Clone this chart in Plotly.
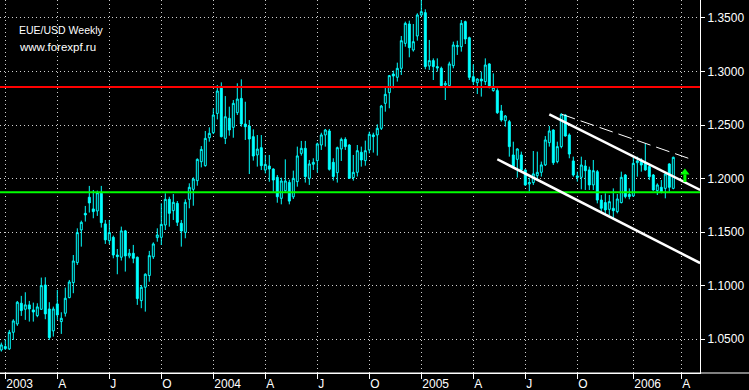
import plotly.graph_objects as go

# ---- data: weekly EUR/USD candles (bar index, 0 = first week of 2003) ----
bar = list(range(-1, 168))
opens = [1.0400,1.0432,1.0410,1.0565,1.0643,1.0836,1.0780,1.0821,1.0774,1.0721,
 1.0780,1.1007,1.0783,1.0578,1.0830,1.0665,1.0743,1.0889,1.1029,1.1216,
 1.1521,1.1676,1.1826,1.1717,1.1698,1.1863,1.1577,1.1421,1.1452,1.1287,
 1.1266,1.1512,1.1278,1.1303,1.1266,1.0861,1.0986,1.1095,1.1270,1.1449,
 1.1452,1.1567,1.1807,1.1701,1.1769,1.1583,1.1498,1.1807,1.1900,1.1981,
 1.2158,1.2121,1.2382,1.2429,1.2609,1.2852,1.2376,1.2563,1.2479,1.2616,
 1.2749,1.2510,1.2491,1.2392,1.2221,1.2289,1.2080,1.2118,1.2090,1.2012,
 1.1816,1.1887,1.1965,1.1830,1.1972,1.2236,1.2283,1.2003,1.2134,1.2168,
 1.2314,1.2408,1.2445,1.2152,1.2056,1.2277,1.2367,1.2314,1.2009,1.2059,
 1.2246,1.2168,1.2268,1.2408,1.2408,1.2470,1.2703,1.2803,1.2977,1.2946,
 1.3030,1.3263,1.3444,1.3201,1.3332,1.3528,1.3550,1.3052,1.3102,1.3046,
 1.3030,1.2874,1.2868,1.3055,1.3232,1.3232,1.3466,1.3316,1.2952,1.2896,
 1.2930,1.2906,1.3071,1.2822,1.2822,1.2632,1.2541,1.2532,1.2221,1.2180,
 1.2221,1.2081,1.1950,1.1963,1.2028,1.2059,1.2128,1.2336,1.2454,1.2159,
 1.2299,1.2594,1.2408,1.2165,1.2025,1.2012,1.2118,1.2081,1.1941,1.2065,
 1.1800,1.1776,1.1713,1.1723,1.1692,1.1776,1.2034,1.1853,1.1838,1.2149,
 1.2174,1.2143,1.2112,1.2034,1.1888,1.1919,1.1909,1.2137,1.1909]
highs = [1.0469,1.0500,1.0587,1.0687,1.0858,1.0905,1.0939,1.0858,1.0842,1.0836,
 1.1076,1.1079,1.0846,1.0805,1.0961,1.0752,1.0982,1.1054,1.1287,1.1536,
 1.1608,1.1745,1.1932,1.1894,1.1888,1.1932,1.1614,1.1614,1.1468,1.1343,
 1.1552,1.1521,1.1343,1.1381,1.1272,1.1007,1.1116,1.1325,1.1405,1.1536,
 1.1769,1.1863,1.1831,1.1856,1.1791,1.1614,1.1807,1.1956,1.2012,1.2189,
 1.2304,1.2445,1.2479,1.2656,1.2874,1.2899,1.2771,1.2672,1.2734,1.2890,
 1.2927,1.2718,1.2547,1.2460,1.2407,1.2407,1.2221,1.2221,1.2096,1.2034,
 1.2009,1.2180,1.1990,1.2075,1.2299,1.2352,1.2352,1.2174,1.2190,1.2336,
 1.2429,1.2464,1.2464,1.2190,1.2299,1.2383,1.2386,1.2321,1.2221,1.2314,
 1.2299,1.2355,1.2439,1.2429,1.2507,1.2688,1.2853,1.2968,1.3008,1.3083,
 1.3332,1.3466,1.3475,1.3444,1.3544,1.3668,1.3581,1.3295,1.3123,1.3123,
 1.3046,1.2912,1.3092,1.3279,1.3288,1.3481,1.3475,1.3326,1.3067,1.2937,
 1.2999,1.3123,1.3077,1.2983,1.2843,1.2688,1.2594,1.2548,1.2345,1.2283,
 1.2252,1.2087,1.2009,1.2258,1.2252,1.2159,1.2398,1.2492,1.2461,1.2345,
 1.2610,1.2601,1.2423,1.2205,1.2065,1.2205,1.2174,1.2112,1.2174,1.2081,
 1.1847,1.1863,1.1847,1.1909,1.1856,1.2065,1.2043,1.1909,1.2205,1.2205,
 1.2190,1.2329,1.2137,1.2043,1.1956,1.1987,1.2049,1.2143,1.2205]
lows = [1.0385,1.0400,1.0400,1.0494,1.0625,1.0718,1.0681,1.0665,1.0665,1.0706,
 1.0774,1.0687,1.0494,1.0525,1.0681,1.0550,1.0712,1.0883,1.0930,1.1194,
 1.1365,1.1599,1.1683,1.1630,1.1652,1.1543,1.1390,1.1390,1.1256,1.1107,
 1.1235,1.1132,1.1256,1.1210,1.0821,1.0790,1.0758,1.1038,1.1250,1.1411,
 1.1380,1.1520,1.1551,1.1614,1.1558,1.1365,1.1443,1.1723,1.1747,1.1934,
 1.2105,1.2112,1.2345,1.2416,1.2553,1.2385,1.2323,1.2401,1.2382,1.2594,
 1.2485,1.2361,1.2043,1.2168,1.2112,1.2080,1.2049,1.1971,1.1878,1.1775,
 1.1760,1.1878,1.1760,1.1810,1.1925,1.2215,1.1963,1.1941,1.2081,1.2056,
 1.2268,1.2299,1.2075,1.1981,1.1963,1.2165,1.2268,1.1997,1.1981,1.2019,
 1.2112,1.2121,1.2236,1.2243,1.2215,1.2454,1.2625,1.2657,1.2843,1.2906,
 1.2968,1.3232,1.3133,1.3186,1.3288,1.3512,1.3021,1.3015,1.2921,1.2999,
 1.2859,1.2734,1.2859,1.3030,1.3155,1.3186,1.3257,1.2921,1.2874,1.2790,
 1.2766,1.2874,1.2843,1.2812,1.2604,1.2532,1.2485,1.2205,1.2106,1.2009,
 1.2065,1.1932,1.1879,1.1941,1.1988,1.2019,1.2118,1.2299,1.2128,1.2143,
 1.2283,1.2392,1.2190,1.2018,1.1972,1.1900,1.1894,1.1894,1.1894,1.1769,
 1.1692,1.1660,1.1660,1.1620,1.1676,1.1769,1.1816,1.1807,1.1832,1.2018,
 1.2065,1.2074,1.1987,1.1888,1.1847,1.1863,1.1816,1.1878,1.1900]
closes = [1.0447,1.0413,1.0565,1.0671,1.0846,1.0768,1.0821,1.0783,1.0755,1.0802,
 1.1001,1.0737,1.0516,1.0783,1.0727,1.0696,1.0883,1.1035,1.1231,1.1496,
 1.1592,1.1661,1.1773,1.1692,1.1869,1.1589,1.1428,1.1496,1.1287,1.1272,
 1.1512,1.1278,1.1303,1.1256,1.0880,1.0986,1.1107,1.1281,1.1390,1.1474,
 1.1573,1.1807,1.1676,1.1779,1.1592,1.1511,1.1779,1.1919,1.1996,1.2180,
 1.2273,1.2376,1.2423,1.2594,1.2818,1.2392,1.2578,1.2454,1.2703,1.2743,
 1.2510,1.2485,1.2370,1.2211,1.2276,1.2121,1.2133,1.2090,1.1987,1.1831,
 1.1978,1.1978,1.1790,1.2003,1.2212,1.2283,1.2019,1.2137,1.2152,1.2324,
 1.2408,1.2454,1.2087,1.2019,1.2289,1.2367,1.2299,1.2003,1.2059,1.2261,
 1.2174,1.2261,1.2414,1.2392,1.2470,1.2678,1.2787,1.2962,1.2958,1.3030,
 1.3288,1.3450,1.3223,1.3279,1.3528,1.3559,1.3046,1.3102,1.3046,1.3033,
 1.2868,1.2890,1.3071,1.3248,1.3242,1.3450,1.3304,1.2946,1.2906,1.2930,
 1.2912,1.3061,1.2853,1.2853,1.2616,1.2548,1.2585,1.2299,1.2112,1.2277,
 1.2081,1.1941,1.1963,1.2044,1.2059,1.2128,1.2361,1.2445,1.2149,1.2299,
 1.2601,1.2398,1.2230,1.2034,1.2012,1.2127,1.2074,1.1941,1.2074,1.1800,
 1.1723,1.1707,1.1785,1.1701,1.1810,1.2012,1.1832,1.1832,1.2143,1.2165,
 1.2127,1.2081,1.2018,1.1894,1.1941,1.1878,1.2043,1.1919,1.2199]

# axis ticks
tick_idx = [0, 13, 26, 39, 52, 65, 78, 91, 104, 117, 130, 143, 157, 169]
tick_text = ["2003", "A", "J", "O", "2004", "A", "J", "O", "2005", "A", "J", "O", "2006", "A"]
price_ticks = [1.05, 1.10, 1.15, 1.20, 1.25, 1.30, 1.35]

x_range = [-1.325, 173.675]
y_range = [1.0185, 1.3668]

# horizontal levels
resistance = 1.2856
support = 1.1872
# channel lines (bar index, price)
upper_x = [136.0, 173.7]
upper_y = [1.2601, 1.1894]
lower_x = [123.0, 173.7]
lower_y = [1.2181, 1.1212]
dash_x = [139.1, 172.0]
dash_y = [1.2601, 1.2174]
# arrow signal (stem and head)
arrow_x = 169.9
arrow_stem = [1.1969, 1.2040]
arrow_head = 1.2057

CYAN = "#00FFFF"
LIME = "#00FF00"
FONT = "Liberation Sans, Arial, sans-serif"

fig = go.Figure()
fig.add_trace(go.Candlestick(
    x=bar, open=opens, high=highs, low=lows, close=closes,
    increasing=dict(line=dict(color=CYAN, width=1), fillcolor="#000000"),
    decreasing=dict(line=dict(color=CYAN, width=1), fillcolor=CYAN),
    whiskerwidth=0, showlegend=False, hoverinfo="skip"))

fig.add_trace(go.Scatter(x=x_range, y=[resistance, resistance], mode="lines",
                         line=dict(color="#FF0000", width=2), showlegend=False, hoverinfo="skip"))
fig.add_trace(go.Scatter(x=x_range, y=[support, support], mode="lines",
                         line=dict(color=LIME, width=2), showlegend=False, hoverinfo="skip"))
fig.add_trace(go.Scatter(x=upper_x, y=upper_y, mode="lines",
                         line=dict(color="white", width=2.5), showlegend=False, hoverinfo="skip"))
fig.add_trace(go.Scatter(x=lower_x, y=lower_y, mode="lines",
                         line=dict(color="white", width=2.5), showlegend=False, hoverinfo="skip"))
fig.add_trace(go.Scatter(x=dash_x, y=dash_y, mode="lines",
                         line=dict(color="white", width=1, dash="14px,6px"), showlegend=False, hoverinfo="skip"))

# green up-arrow signal
fig.add_trace(go.Scatter(x=[arrow_x, arrow_x], y=arrow_stem, mode="lines",
                         line=dict(color=LIME, width=3), showlegend=False, hoverinfo="skip"))
fig.add_trace(go.Scatter(x=[arrow_x], y=[arrow_head], mode="markers",
                         marker=dict(symbol="triangle-up", size=8, color=LIME, line=dict(width=0)),
                         showlegend=False, hoverinfo="skip"))

fig.add_annotation(x=17/700, y=1 - 30/373, xref="paper", yref="paper", xanchor="left", yanchor="middle",
                   text="EUE/USD Weekly", showarrow=False, font=dict(color="white", size=10.5, family=FONT))
fig.add_annotation(x=17/700, y=1 - 47/373, xref="paper", yref="paper", xanchor="left", yanchor="middle",
                   text="www.forexpf.ru", showarrow=False, font=dict(color="white", size=11.5, family=FONT))

# bottom axis line extends under price scale
fig.add_shape(type="line", xref="paper", yref="paper", x0=0, x1=749/700, y0=0, y1=0,
              line=dict(color="white", width=1))

fig.update_layout(
    width=749, height=390,
    margin=dict(l=0, r=49, t=0, b=17),
    paper_bgcolor="black", plot_bgcolor="black",
    font=dict(family=FONT, color="white", size=12),
    showlegend=False,
    xaxis=dict(range=x_range, tickvals=tick_idx, ticktext=tick_text,
               ticks="outside", ticklen=5, tickcolor="white", tickwidth=1,
               ticklabelposition="outside right",
               showline=True, linecolor="white", linewidth=1,
               showgrid=True, gridcolor="#d0d0d0", gridwidth=1, griddash="1px,3px",
               zeroline=False, rangeslider=dict(visible=False),
               tickfont=dict(color="white", size=12, family=FONT)),
    yaxis=dict(range=y_range, side="right", tickvals=price_ticks, tickformat=".4f",
               ticks="outside", ticklen=4, tickcolor="white", tickwidth=1,
               showline=True, linecolor="white", linewidth=1,
               showgrid=True, gridcolor="#d0d0d0", gridwidth=1, griddash="1px,3px",
               zeroline=False,
               tickfont=dict(color="white", size=12, family=FONT)),
)

fig.write_html("out.html")
